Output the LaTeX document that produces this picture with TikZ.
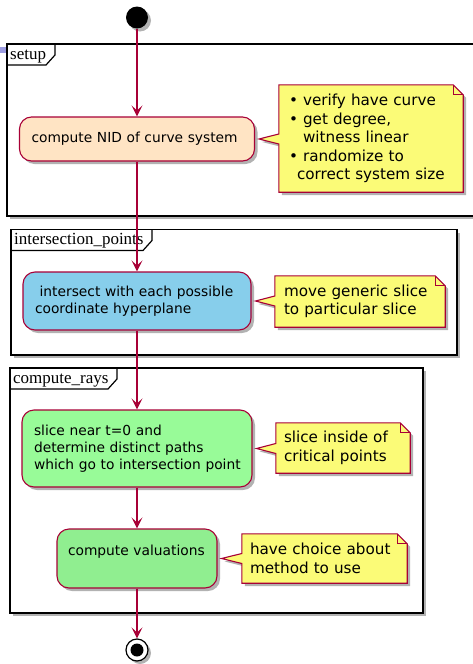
\documentclass[tikz,border=0pt]{standalone}
\usepackage{fontspec}
\setmainfont{DejaVu Sans}
\newfontfamily\framefont{Liberation Serif}
\usetikzlibrary{arrows.meta, positioning, shadows, calc}

\pgfdeclarelayer{back}
\pgfdeclarelayer{mid}
\pgfsetlayers{back,mid,main}

\definecolor{umlred}{HTML}{A80036}
\definecolor{notefill}{HTML}{FBFB77}
\definecolor{nidfill}{HTML}{FFE4C4}
\definecolor{skyfill}{HTML}{87CEEB}
\definecolor{palefill}{HTML}{98FB98}
\definecolor{lightfill}{HTML}{90EE90}
\definecolor{tabmark}{HTML}{9C9CE0}

% note outline with its pointer: #1 note node, #2 target node
\newcommand{\notebox}[2]{%
  \draw[noteline] (#1.north west) -- ([xshift=-10pt]#1.north east)
    -- ([yshift=-10pt]#1.north east) -- (#1.south east) -- (#1.south west)
    -- ($(#1.west |- #2.east)+(0,5)$) -- ([xshift=4pt]#2.east)
    -- ($(#1.west |- #2.east)+(0,-5)$) -- cycle;
  \draw[umlred, line width=1pt] ([xshift=-10pt]#1.north east) |- ([yshift=-10pt]#1.north east);
}

% partition: name, top left, bottom right, tab width, title
\newcommand{\umlframe}[5]{%
  \draw[frame] #2 coordinate (#1) rectangle #3;
  \draw[tabline] (#1) ++(#4,0) -- ++(0,11) -- ++(-9,10) -- ($(#1)+(0,21)$);
  \node[frametitle] (#1-title) at ($(#1)+(3,15)$) {#5};
}

\begin{document}
\begin{tikzpicture}[
  x=1pt, y=-1pt,
  every node/.style={font=\fontsize{13.8}{17}\selectfont},
  umlshadow/.style={drop shadow={shadow xshift=3pt, shadow yshift=-3pt, opacity=0.3, fill=black}},
  action/.style={rectangle, rounded corners=12pt, draw=umlred, line width=1.1pt,
    align=left, inner xsep=12pt, inner ysep=0pt, umlshadow},
  notetext/.style={rectangle, align=left, inner ysep=0pt, font=\fontsize{15.2}{18.5}\selectfont},
  noteline/.style={draw=umlred, fill=notefill, line width=1.1pt, line join=miter, umlshadow},
  frame/.style={draw=black, fill=white, line width=1.6pt, umlshadow},
  tabline/.style={draw=black, line width=1.2pt},
  frametitle/.style={font=\framefont\fontsize{17}{18}\selectfont, inner sep=0pt, anchor=base west},
  flow/.style={draw=umlred, line width=1.2pt, -{Stealth[length=11pt, width=11pt, inset=5pt]}}
]
\useasboundingbox (0,0) rectangle (473,664);

% partitions
\begin{pgfonlayer}{back}
  \fill[tabmark] (0,46.5) rectangle (7,52.5);
  \umlframe{setup}{(7,44)}{(480,216)}{48}{setup}
  \umlframe{inter}{(11,229.5)}{(457,355)}{141}{intersection\_points}
  \umlframe{rays}{(10,368)}{(423,613)}{107}{compute\_rays}
\end{pgfonlayer}

% activities
\node[circle, fill=black, minimum size=22pt, inner sep=0pt, umlshadow] (start) at (137,17.5) {};
\node[action, fill=nidfill, text width=211pt, minimum height=44pt] (nid) at (137,139)
  {compute NID of curve system};
\node[action, fill=skyfill, text width=204pt, minimum height=58pt] (slice) at (137,301)
  {\ intersect with each possible\\coordinate hyperplane};
\node[action, fill=palefill, text width=210pt, inner xsep=10pt, minimum height=77pt] (paths) at (137,448.5)
  {\hspace*{2pt}slice near t=0 and\\\hspace*{2pt}determine distinct paths\\\hspace*{2pt}which go to intersection point};
\node[action, fill=lightfill, text width=142pt, inner xsep=9pt, minimum height=59pt] (valu) at (137,558.5)
  {\hspace*{2pt}compute valuations\\\mbox{}};
\node[circle, draw=black, line width=1.2pt, fill=white, minimum size=22pt, inner sep=0pt, umlshadow,
  path picture={\fill[black] (path picture bounding box.center) circle (6.5pt);}] (stop) at (137,650) {};

\draw[flow] (start) -- (nid);
\draw[flow] (nid) -- (slice);
\draw[flow] (slice) -- (paths);
\draw[flow] (paths) -- (valu);
\draw[flow] (valu) -- (stop);

% notes
\node[notetext, text width=164pt, inner xsep=10pt, minimum height=107pt] (note1) at (371,138.5)
  {• verify have curve\\• get degree,\\\phantom{•}\ witness linear\\• randomize to\\\hspace*{8pt}correct system size};
\node[notetext, text width=152pt, inner xsep=9pt, minimum height=51pt] (note2) at (360,301.5)
  {move generic slice\\to particular slice};
\node[notetext, text width=118pt, inner xsep=8pt, minimum height=50pt] (note3) at (343,448)
  {slice inside of\\critical points};
\node[notetext, text width=149pt, inner xsep=8pt, minimum height=49pt] (note4) at (324.5,558.5)
  {have choice about\\method to use};
\begin{pgfonlayer}{mid}
  \notebox{note1}{nid}
  \notebox{note2}{slice}
  \notebox{note3}{paths}
  \notebox{note4}{valu}
\end{pgfonlayer}
\end{tikzpicture}
\end{document}
